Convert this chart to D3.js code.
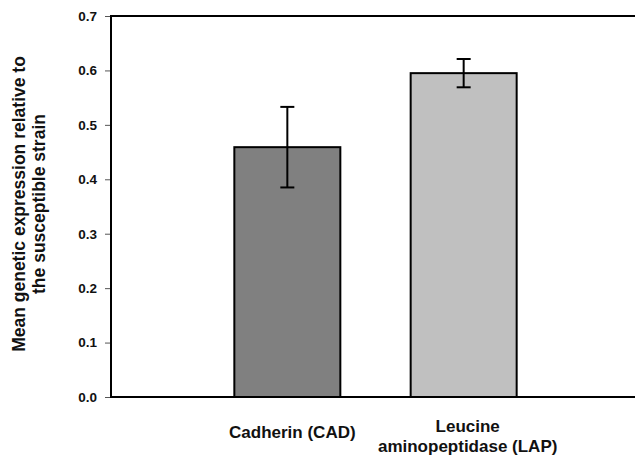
<!DOCTYPE html>
<html>
<head>
	<meta charset="utf-8">
	<title>Gene expression</title>
	<script src="https://d3js.org/d3.v7.min.js"></script>
	<style>
		body { margin: 0; background: #fff; }
		text { font-family: "Liberation Sans", Arial, sans-serif; font-weight: bold; fill: #111; }
	</style>
</head>
<body>
	<script>
		var width = 635, height = 457;

		// data
		var categories = ["Cadherin (CAD)", "Leucine aminopeptidase (LAP)"];
		var labelLines = [["Cadherin (CAD)"], ["Leucine", "aminopeptidase (LAP)"]];
		var means = [0.459, 0.595];
		var errors = [0.074, 0.026];
		var barColors = ["#808080", "#c0c0c0"];
		var yTicks = [0, 0.1, 0.2, 0.3, 0.4, 0.5, 0.6, 0.7];

		var mLeft = 111, mTop = 16, mBottom = 397, mRight = 640;

		var svg = d3.select("body").append("svg").attr("width", width).attr("height", height);

		var y = d3.scaleLinear().domain([0, 0.7]).range([mBottom, mTop]);
		// bars sit at slots 1 and 2 of a 0..3 axis
		var x = d3.scaleLinear().domain([0, 3]).range([mLeft, mRight]);
		var barW = 106, capW = 7;

		// bars
		svg.append("g").selectAll("rect")
			.data(means)
			.enter().append("rect")
			.attr("x", function(d, i){ return x(i + 1) - barW / 2; })
			.attr("y", function(d){ return y(d); })
			.attr("width", barW)
			.attr("height", function(d){ return y(0) - y(d); })
			.attr("fill", function(d, i){ return barColors[i]; })
			.attr("stroke", "#000")
			.attr("stroke-width", 2);

		// error bars
		var eb = svg.append("g").selectAll("g")
			.data(means)
			.enter().append("g")
			.attr("stroke", "#000").attr("stroke-width", 2);
		eb.append("line")
			.attr("x1", function(d, i){ return x(i + 1); })
			.attr("x2", function(d, i){ return x(i + 1); })
			.attr("y1", function(d, i){ return y(d + errors[i]); })
			.attr("y2", function(d, i){ return y(d - errors[i]); });
		eb.append("line")
			.attr("x1", function(d, i){ return x(i + 1) - capW; })
			.attr("x2", function(d, i){ return x(i + 1) + capW; })
			.attr("y1", function(d, i){ return y(d + errors[i]); })
			.attr("y2", function(d, i){ return y(d + errors[i]); });
		eb.append("line")
			.attr("x1", function(d, i){ return x(i + 1) - capW; })
			.attr("x2", function(d, i){ return x(i + 1) + capW; })
			.attr("y1", function(d, i){ return y(d - errors[i]); })
			.attr("y2", function(d, i){ return y(d - errors[i]); });

		// y axis
		var yAxis = svg.append("g")
			.attr("transform", "translate(" + mLeft + ",0)")
			.call(d3.axisLeft(y).tickValues(yTicks).tickFormat(d3.format(".1f")).tickSize(6).tickPadding(8));
		yAxis.select(".domain").remove();
		yAxis.selectAll(".tick line").attr("stroke", "#555").attr("stroke-width", 1);
		yAxis.selectAll(".tick text").style("font-size", "13.5px").attr("fill", "#1a1a2a");

		// frame lines
		svg.append("line").attr("x1", mLeft).attr("x2", mLeft).attr("y1", mTop - 1).attr("y2", mBottom + 1)
			.attr("stroke", "#000").attr("stroke-width", 2);
		svg.append("line").attr("x1", mLeft).attr("x2", width).attr("y1", mTop).attr("y2", mTop)
			.attr("stroke", "#000").attr("stroke-width", 2);
		svg.append("line").attr("x1", mLeft).attr("x2", width).attr("y1", mBottom).attr("y2", mBottom)
			.attr("stroke", "#000").attr("stroke-width", 2);

		// category labels
		var xl = svg.append("g").selectAll("text")
			.data(labelLines)
			.enter().append("text")
			.attr("text-anchor", "middle")
			.style("font-size", "17px")
			.attr("transform", function(d, i){ return "translate(" + (x(i + 1) + (i === 0 ? 5 : 4)) + "," + (d.length === 1 ? 438 : 432) + ")"; });
		xl.selectAll("tspan")
			.data(function(d){ return d; })
			.enter().append("tspan")
			.attr("x", 0)
			.attr("dy", function(d, j){ return j === 0 ? 0 : 20; })
			.text(function(d){ return d; });

		// y title
		var yt = svg.append("text")
			.attr("text-anchor", "middle")
			.style("font-size", "17.5px")
			.attr("transform", "translate(25,204) rotate(-90)");
		yt.append("tspan").attr("x", 0).attr("dy", 0).text("Mean genetic expression relative to");
		yt.append("tspan").attr("x", 0).attr("dy", 20).text("the susceptible strain");
	</script>
</body>
</html>
